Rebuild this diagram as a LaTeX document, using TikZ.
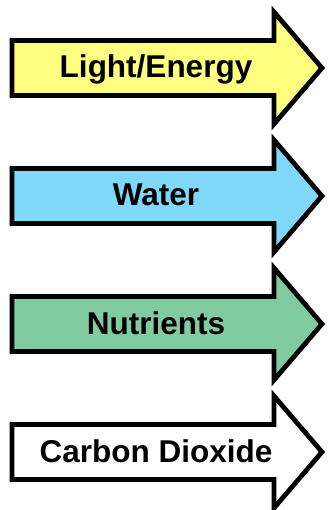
\documentclass[tikz,border=0pt]{standalone}
\usepackage{fontspec}
\setmainfont{Liberation Sans}
\usepackage{tikz}
\usetikzlibrary{calc}
\definecolor{lightyellow}{RGB}{255,255,128}
\definecolor{lightblue}{RGB}{128,216,248}
\definecolor{lightgreen}{RGB}{128,204,160}
\tikzset{FLOW/.style={draw=black,line width=4.8pt,miter limit=10}}
\tikzset{LABEL/.style={font=\fontsize{31.5}{31.5}\selectfont\bfseries,anchor=base,inner sep=0pt}}
% one input arrow: name, centre line, fill
\newcommand{\inputarrow}[3]{%
  \coordinate (#1) at (0,#2);
  \draw[FLOW,fill=#3] ($(#1)+(12,-27.5)$) -- ($(#1)+(274,-27.5)$) -- ($(#1)+(274,-56)$)
    -- ($(#1)+(322,0)$) -- ($(#1)+(274,56)$) -- ($(#1)+(274,27.5)$) -- ($(#1)+(12,27.5)$) -- cycle;}

\begin{document}
\begin{tikzpicture}[x=1pt,y=-1pt]
\useasboundingbox (0,0) rectangle (327,510);

\inputarrow{c_light}{68}{lightyellow}
\node[LABEL] (n_light) at ($(c_light)+(156,10)$) {Light/Energy};

\inputarrow{c_water}{196}{lightblue}
\node[LABEL] (n_water) at ($(c_water)+(156,10)$) {Water};

\inputarrow{c_nutrients}{324}{lightgreen}
\node[LABEL] (n_nutrients) at ($(c_nutrients)+(156,10)$) {Nutrients};

\inputarrow{c_co2}{452}{white}
\node[LABEL] (n_co2) at ($(c_co2)+(156,10)$) {Carbon Dioxide};

\end{tikzpicture}
\end{document}
